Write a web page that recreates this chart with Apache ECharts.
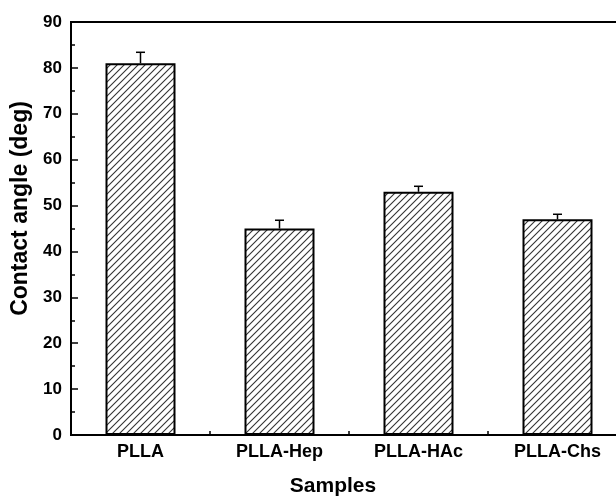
<!DOCTYPE html>
<html>
<head>
<meta charset="utf-8">
<script src="https://cdn.jsdelivr.net/npm/echarts@6/dist/echarts.min.js"></script>
<style>
  html, body { margin: 0; padding: 0; background: #fff; }
  #chart { width: 616px; height: 497px; }
</style>
</head>
<body>
<div id="chart"></div>
<script>
var categories = ['PLLA', 'PLLA-Hep', 'PLLA-HAc', 'PLLA-Chs'];
var angles = [81, 45, 53, 47];
var errors = [2.4, 1.8, 1.2, 1.1];

// diagonal hatch tile
function hatch() {
    var c = document.createElement('canvas');
    c.width = 7;
    c.height = 7;
    var ctx = c.getContext('2d');
    ctx.fillStyle = '#fff';
    ctx.fillRect(0, 0, 7, 7);
    ctx.strokeStyle = '#333';
    ctx.lineWidth = 1.1;
    ctx.beginPath();
    ctx.moveTo(-1, 8); ctx.lineTo(8, -1);
    ctx.moveTo(-8, 8); ctx.lineTo(1, -1);
    ctx.moveTo(6, 8); ctx.lineTo(15, -1);
    ctx.stroke();
    return c;
}

var font = '"Liberation Sans", Arial, sans-serif';
var chart = echarts.init(document.getElementById('chart'));

var errData = angles.map(function (v, i) { return [i, v, v + errors[i]]; });

chart.setOption({
    animation: false,
    grid: {
        left: 71, width: 556, top: 22, height: 413,
        outerBoundsMode: 'none',
        containLabel: false,
        show: true, borderColor: '#000', borderWidth: 2
    },
    xAxis: [
        {
            type: 'category',
            data: categories,
            position: 'bottom',
            axisLine: { lineStyle: { color: '#000', width: 2 } },
            axisTick: { show: true, inside: true, length: 4, lineStyle: { color: '#000', width: 1.5 } },
            axisLabel: { show: false },
            splitLine: { show: false }
        },
        {
            type: 'category',
            data: categories,
            position: 'bottom',
            axisLine: { show: false },
            axisTick: { show: true, inside: true, alignWithLabel: true, length: 4, lineStyle: { color: '#000', width: 1.5 } },
            axisLabel: { color: '#000', fontFamily: font, fontWeight: 'bold', fontSize: 18, margin: 8 },
            name: 'Samples',
            nameLocation: 'middle',
            nameGap: 41,
            nameTextStyle: { color: '#000', fontFamily: font, fontWeight: 'bold', fontSize: 21, padding: [0, 32, 0, 0] }
        }
    ],
    yAxis: {
        type: 'value',
        min: 0, max: 90, interval: 10,
        axisLine: { show: true, lineStyle: { color: '#000', width: 2 } },
        axisTick: { show: true, inside: true, length: 7, lineStyle: { color: '#000', width: 1.5 } },
        minorTick: { show: true, splitNumber: 2, length: 4, lineStyle: { color: '#000', width: 1.5 } },
        splitLine: { show: false },
        axisLabel: { color: '#000', fontFamily: font, fontWeight: 'bold', fontSize: 17, margin: 9 },
        name: 'Contact angle (deg)',
        nameLocation: 'middle',
        nameGap: 38,
        nameTextStyle: { color: '#000', fontFamily: font, fontWeight: 'bold', fontSize: 23, padding: [0, 0, 0, 40] }
    },
    series: [
        {
            type: 'bar',
            xAxisIndex: 1,
            data: angles,
            barWidth: 70,
            itemStyle: {
                color: { image: hatch(), repeat: 'repeat' },
                borderColor: '#000',
                borderWidth: 2
            }
        },
        {
            type: 'custom',
            xAxisIndex: 1,
            data: errData,
            z: 5,
            renderItem: function (params, api) {
                var lo = api.coord([api.value(0), api.value(1)]);
                var hi = api.coord([api.value(0), api.value(2)]);
                var style = { stroke: '#000', lineWidth: 1.5 };
                return {
                    type: 'group',
                    children: [
                        { type: 'line', shape: { x1: lo[0], y1: lo[1], x2: hi[0], y2: hi[1] }, style: style },
                        { type: 'line', shape: { x1: hi[0] - 4.5, y1: hi[1], x2: hi[0] + 4.5, y2: hi[1] }, style: style }
                    ]
                };
            }
        }
    ]
});
</script>
</body>
</html>
